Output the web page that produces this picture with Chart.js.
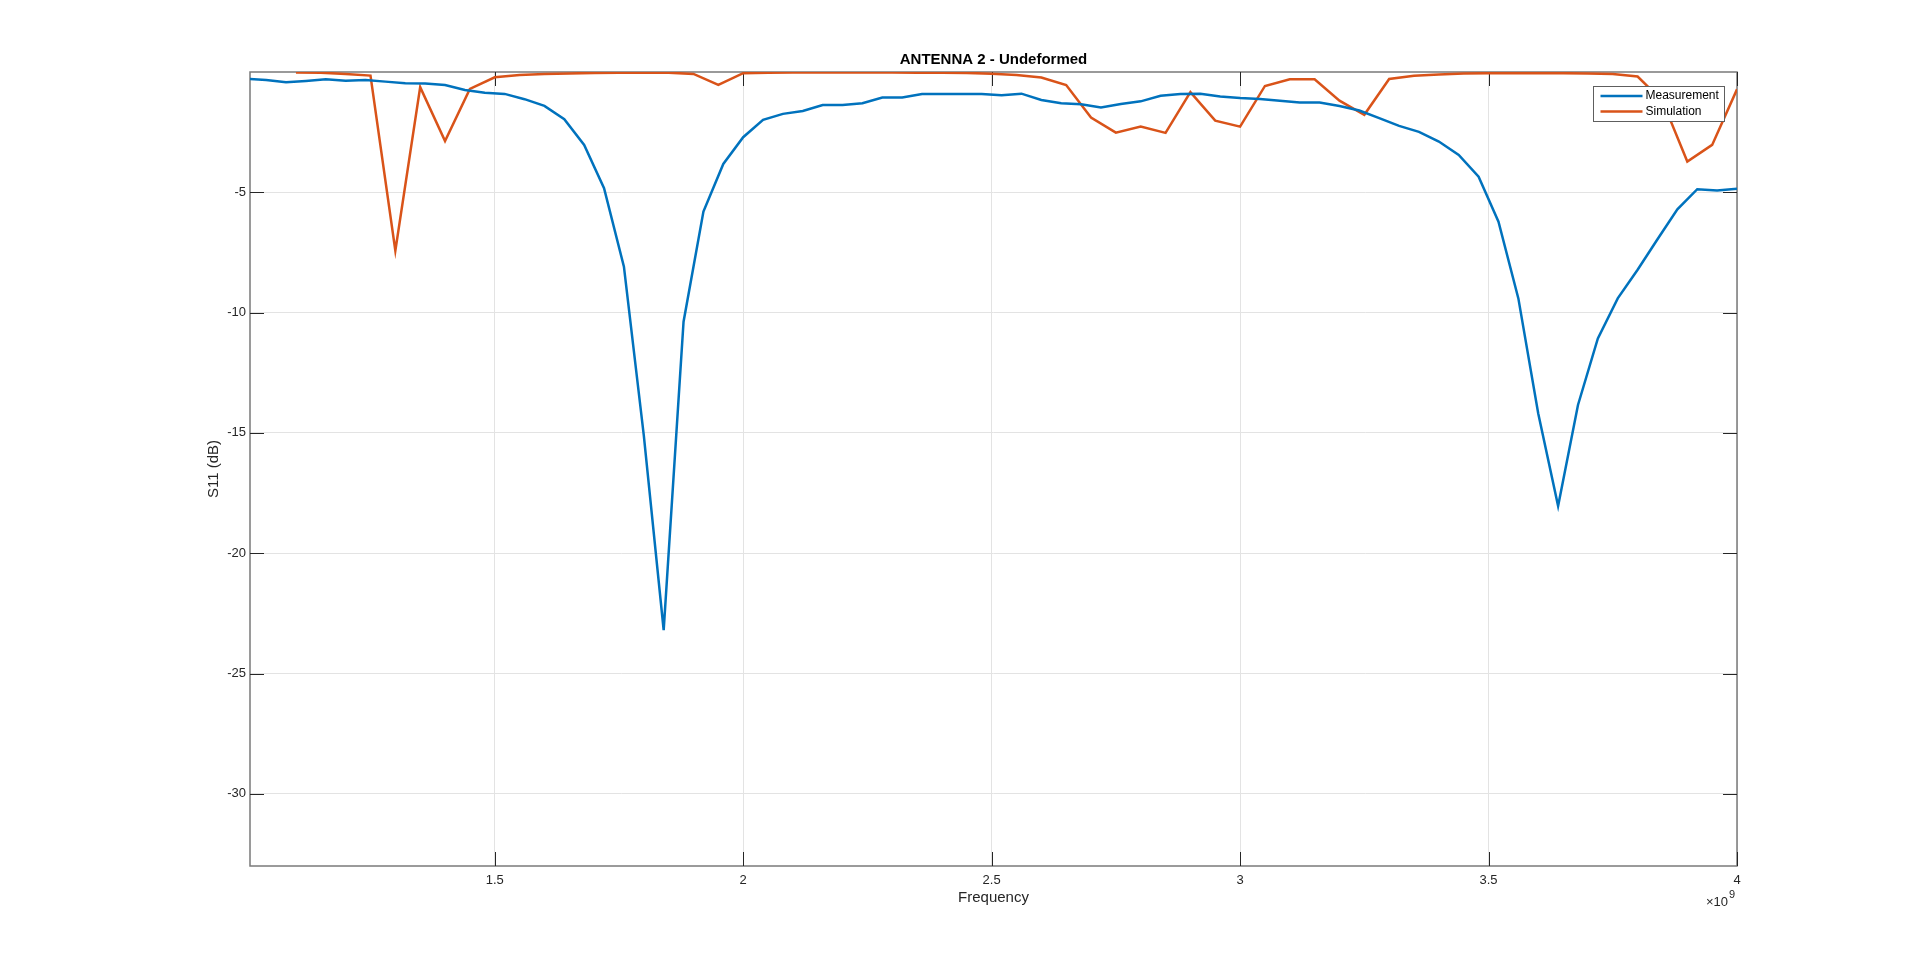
<!DOCTYPE html>
<html>
<head>
<meta charset="utf-8">
<title>ANTENNA 2 - Undeformed</title>
<script src="https://cdn.jsdelivr.net/npm/chart.js@4.4.1/dist/chart.umd.min.js"></script>
<style>
  html, body { margin: 0; padding: 0; background: #ffffff; }
  #wrap { width: 1920px; height: 974px; }
</style>
</head>
<body>
<div id="wrap"><canvas id="s11-chart" width="1920" height="974"></canvas></div>
<script>
const titleText = "ANTENNA 2 - Undeformed";
const xLabel = "Frequency";
const yLabel = "S11 (dB)";
const xExponent = "9";
const xTicks = [1.5, 2, 2.5, 3, 3.5, 4];
const yTicks = [-30, -25, -20, -15, -10, -5];
const seriesNames = ["Measurement", "Simulation"];
const seriesColors = ["#0072bd", "#d95319"];

// frequency in GHz (axis shows x10^9)
const measFreq = [
  1.00, 1.04, 1.08, 1.12, 1.16, 1.20, 1.24, 1.28, 1.32, 1.36,
  1.40, 1.44, 1.48, 1.52, 1.56, 1.60, 1.64, 1.68, 1.72, 1.76,
  1.80, 1.84, 1.88, 1.92, 1.96, 2.00, 2.04, 2.08, 2.12, 2.16,
  2.20, 2.24, 2.28, 2.32, 2.36, 2.40, 2.44, 2.48, 2.52, 2.56,
  2.60, 2.64, 2.68, 2.72, 2.76, 2.80, 2.84, 2.88, 2.92, 2.96,
  3.00, 3.04, 3.08, 3.12, 3.16, 3.20, 3.24, 3.28, 3.32, 3.36,
  3.40, 3.44, 3.48, 3.52, 3.56, 3.60, 3.64, 3.68, 3.72, 3.76,
  3.80, 3.84, 3.88, 3.92, 3.96, 4.00,
];
const measS11 = [
  -0.28, -0.33, -0.43, -0.37, -0.30, -0.36, -0.33, -0.40, -0.47, -0.48,
  -0.54, -0.75, -0.86, -0.91, -1.13, -1.41, -1.96, -3.03, -4.83, -8.09,
  -15.1, -23.2, -10.38, -5.80, -3.82, -2.71, -1.99, -1.74, -1.62, -1.37,
  -1.37, -1.30, -1.06, -1.06, -0.91, -0.91, -0.91, -0.91, -0.97, -0.90,
  -1.16, -1.30, -1.34, -1.47, -1.33, -1.22, -0.99, -0.91, -0.90, -1.02,
  -1.08, -1.12, -1.19, -1.27, -1.27, -1.41, -1.60, -1.92, -2.24, -2.49,
  -2.89, -3.45, -4.35, -6.22, -9.41, -14.19, -18.04, -13.84, -11.07, -9.41,
  -8.22, -6.95, -5.71, -4.87, -4.93, -4.85,
];

const simFreq = [
  1.10, 1.15, 1.20, 1.25, 1.30, 1.35, 1.40, 1.45, 1.50, 1.55,
  1.60, 1.65, 1.70, 1.75, 1.80, 1.85, 1.90, 1.95, 2.00, 2.05,
  2.10, 2.15, 2.20, 2.25, 2.30, 2.35, 2.40, 2.45, 2.50, 2.55,
  2.60, 2.65, 2.70, 2.75, 2.80, 2.85, 2.90, 2.95, 3.00, 3.05,
  3.10, 3.15, 3.20, 3.25, 3.30, 3.35, 3.40, 3.45, 3.50, 3.55,
  3.60, 3.65, 3.70, 3.75, 3.80, 3.85, 3.90, 3.95, 4.00,
];
const simS11 = [
  -0.02, -0.03, -0.08, -0.15, -7.43, -0.63, -2.87, -0.70, -0.22, -0.12,
  -0.08, -0.06, -0.04, -0.03, -0.03, -0.03, -0.08, -0.54, -0.05, -0.03,
  -0.02, -0.02, -0.02, -0.02, -0.02, -0.03, -0.03, -0.04, -0.07, -0.12,
  -0.23, -0.54, -1.89, -2.52, -2.27, -2.53, -0.84, -2.02, -2.27, -0.58,
  -0.30, -0.30, -1.19, -1.78, -0.29, -0.16, -0.10, -0.06, -0.05, -0.05,
  -0.05, -0.05, -0.06, -0.08, -0.19, -1.20, -3.72, -3.03, -0.72,
];

const FONT = "'Liberation Sans', Arial, Helvetica, sans-serif";
const AXIS_COLOR = "#262626";
Chart.defaults.font.family = FONT;
Chart.defaults.color = AXIS_COLOR;

const TICK_LEN = 14;

// box, inward ticks on all four sides (MATLAB style), title over the axes
const frame = {
  id: "frame",
  beforeDatasetsDraw(chart) {
    const { ctx, chartArea: a, scales: { x, y } } = chart;
    ctx.save();
    ctx.strokeStyle = "#7a7a7a";
    ctx.lineWidth = 1.5;
    ctx.strokeRect(a.left, a.top, a.right - a.left, a.bottom - a.top);

    ctx.strokeStyle = AXIS_COLOR;
    ctx.lineWidth = 1;
    ctx.beginPath();
    xTicks.forEach((v) => {
      const px = Math.round(x.getPixelForValue(v)) + 0.5;
      ctx.moveTo(px, a.bottom);
      ctx.lineTo(px, a.bottom - TICK_LEN);
      ctx.moveTo(px, a.top);
      ctx.lineTo(px, a.top + TICK_LEN);
    });
    yTicks.forEach((v) => {
      const py = Math.round(y.getPixelForValue(v)) + 0.5;
      ctx.moveTo(a.left, py);
      ctx.lineTo(a.left + TICK_LEN, py);
      ctx.moveTo(a.right, py);
      ctx.lineTo(a.right - TICK_LEN, py);
    });
    ctx.stroke();

    ctx.fillStyle = "#000000";
    ctx.font = `bold 15px ${FONT}`;
    ctx.textAlign = "center";
    ctx.textBaseline = "alphabetic";
    ctx.fillText(titleText, (a.left + a.right) / 2, 64);
    ctx.restore();
  },
  afterDraw(chart) {
    const { ctx, chartArea: a } = chart;
    ctx.save();

    // x10^9 exponent under the last tick
    ctx.fillStyle = AXIS_COLOR;
    ctx.textBaseline = "alphabetic";
    ctx.textAlign = "right";
    ctx.font = `13px ${FONT}`;
    ctx.fillText("\u00d710", a.right - 9, 906);
    ctx.textAlign = "left";
    ctx.font = `11px ${FONT}`;
    ctx.fillText(xExponent, a.right - 8, 898);

    // legend inside the axes, top right
    const bx = 1593.5, by = 86.5, bw = 131, bh = 35;
    ctx.fillStyle = "#ffffff";
    ctx.fillRect(bx, by, bw, bh);
    ctx.strokeStyle = "#5e5e5e";
    ctx.lineWidth = 1;
    ctx.strokeRect(bx, by, bw, bh);
    ctx.font = `12px ${FONT}`;
    ctx.textBaseline = "middle";
    chart.data.datasets.forEach((ds, i) => {
      const ly = by + 9.5 + i * 15.5;
      ctx.strokeStyle = ds.borderColor;
      ctx.lineWidth = 2.5;
      ctx.beginPath();
      ctx.moveTo(bx + 7, ly);
      ctx.lineTo(bx + 49, ly);
      ctx.stroke();
      ctx.fillStyle = "#000000";
      ctx.fillText(ds.label, bx + 52, ly);
    });
    ctx.restore();
  },
};

new Chart(document.getElementById("s11-chart"), {
  type: "line",
  data: {
    datasets: [
      {
        label: seriesNames[0],
        data: measFreq.map((f, i) => ({ x: f, y: measS11[i] })),
        borderColor: seriesColors[0],
        borderWidth: 2.5,
        pointRadius: 0,
        tension: 0,
      },
      {
        label: seriesNames[1],
        data: simFreq.map((f, i) => ({ x: f, y: simS11[i] })),
        borderColor: seriesColors[1],
        borderWidth: 2.5,
        pointRadius: 0,
        tension: 0,
      },
    ],
  },
  options: {
    responsive: false,
    animation: false,
    devicePixelRatio: 1,
    layout: { padding: { left: 0, right: 183, top: 72, bottom: 0 } },
    plugins: {
      legend: { display: false },
      tooltip: { enabled: false },
      title: { display: false },
    },
    scales: {
      x: {
        type: "linear",
        min: 1.0075,
        max: 4,
        afterBuildTicks: (s) => { s.ticks = xTicks.map((v) => ({ value: v })); },
        afterFit: (s) => { s.height = 108; },
        grid: { color: "#e3e3e3", lineWidth: 1, drawTicks: false },
        border: { display: false },
        ticks: {
          padding: 7,
          font: { size: 13 },
          color: AXIS_COLOR,
          maxRotation: 0,
          callback: (v) => String(v),
        },
        title: {
          display: true,
          text: xLabel,
          font: { size: 15 },
          color: AXIS_COLOR,
          padding: { top: 0, bottom: 67 },
        },
      },
      y: {
        type: "linear",
        min: -33,
        max: 0,
        afterBuildTicks: (s) => { s.ticks = yTicks.map((v) => ({ value: v })); },
        afterFit: (s) => { s.width = 250; },
        grid: { color: "#e3e3e3", lineWidth: 1, drawTicks: false },
        border: { display: false },
        ticks: {
          padding: 4,
          font: { size: 13 },
          color: AXIS_COLOR,
          callback: (v) => String(v),
        },
        title: {
          display: true,
          text: yLabel,
          font: { size: 15 },
          color: AXIS_COLOR,
          padding: { top: 205, bottom: 0 },
        },
      },
    },
  },
  plugins: [frame],
});
</script>
</body>
</html>
